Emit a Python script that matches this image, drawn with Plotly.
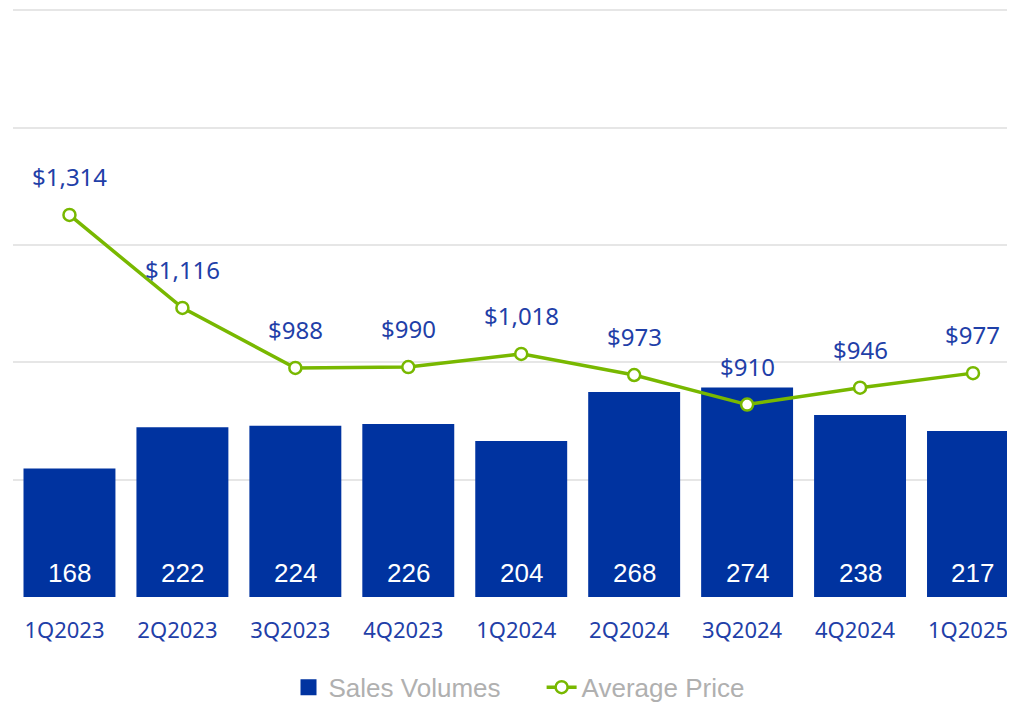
import plotly.graph_objects as go

quarters = ["1Q2023", "2Q2023", "3Q2023", "4Q2023", "1Q2024", "2Q2024", "3Q2024", "4Q2024", "1Q2025"]
sales_volumes = [168, 222, 224, 226, 204, 268, 274, 238, 217]
average_price = [1314, 1116, 988, 990, 1018, 973, 910, 946, 977]

BLUE = "#0033a0"
GREEN = "#78b800"
LABEL_BLUE = "#1f40a8"

fig = go.Figure()
fig.add_trace(go.Bar(
    x=quarters, y=sales_volumes, name="Sales Volumes",
    marker=dict(color=BLUE, line=dict(width=0)),
    yaxis="y", hoverinfo="skip", showlegend=False,
))
# legend entry for the bars with a larger square symbol
fig.add_trace(go.Scatter(
    x=[None], y=[None], name="Sales Volumes\u00a0\u00a0\u00a0\u00a0\u00a0", mode="markers",
    marker=dict(symbol="square", size=22, color=BLUE),
    showlegend=True,
))
fig.add_trace(go.Scatter(
    x=quarters, y=average_price, name="Average Price",
    mode="lines+markers", yaxis="y2",
    line=dict(color=GREEN, width=3.5),
    marker=dict(size=12, color="white", line=dict(color=GREEN, width=2.5)),
))

annotations = []
for q, v in zip(quarters, sales_volumes):
    annotations.append(dict(
        x=q, y=0, xref="x", yref="y", text=str(v), showarrow=False,
        yanchor="bottom", yshift=7,
        font=dict(family="Liberation Sans, Arial", size=26, color="white"),
    ))
for q, p in zip(quarters, average_price):
    annotations.append(dict(
        x=q, y=p, xref="x", yref="y2", text=f"${p:,}", showarrow=False,
        yanchor="bottom", yshift=20,
        font=dict(family="Noto Sans, Open Sans", size=24, color=LABEL_BLUE),
    ))

fig.update_layout(
    width=1007, height=697,
    margin=dict(l=4.5, r=0, t=0, b=108),
    paper_bgcolor="white", plot_bgcolor="white",
    bargap=0.186,
    showlegend=True,
    legend=dict(
        orientation="h", x=0.505, xanchor="center",
        yref="container", y=0.0255, yanchor="middle",
        font=dict(family="Liberation Sans, Arial", size=26, color="#b0b0b0"),
        itemsizing="trace", itemwidth=30,
    ),
    xaxis=dict(
        range=[-0.5, 8.372],
        showgrid=False, showline=False, zeroline=False,
        tickfont=dict(family="Noto Sans, Open Sans", size=22, color=LABEL_BLUE),
        ticks="", ticklabelstandoff=18, ticklabelshift=-5,
    ),
    yaxis=dict(
        range=[0, 770], showgrid=False, showticklabels=False, zeroline=False,
    ),
    yaxis2=dict(
        range=[500, 1755], dtick=250, tick0=500, overlaying="y", side="left",
        showgrid=True, gridcolor="#e6e6e6", gridwidth=2,
        showticklabels=False, zeroline=False,
    ),
    annotations=annotations,
)

fig.write_html("out.html")
